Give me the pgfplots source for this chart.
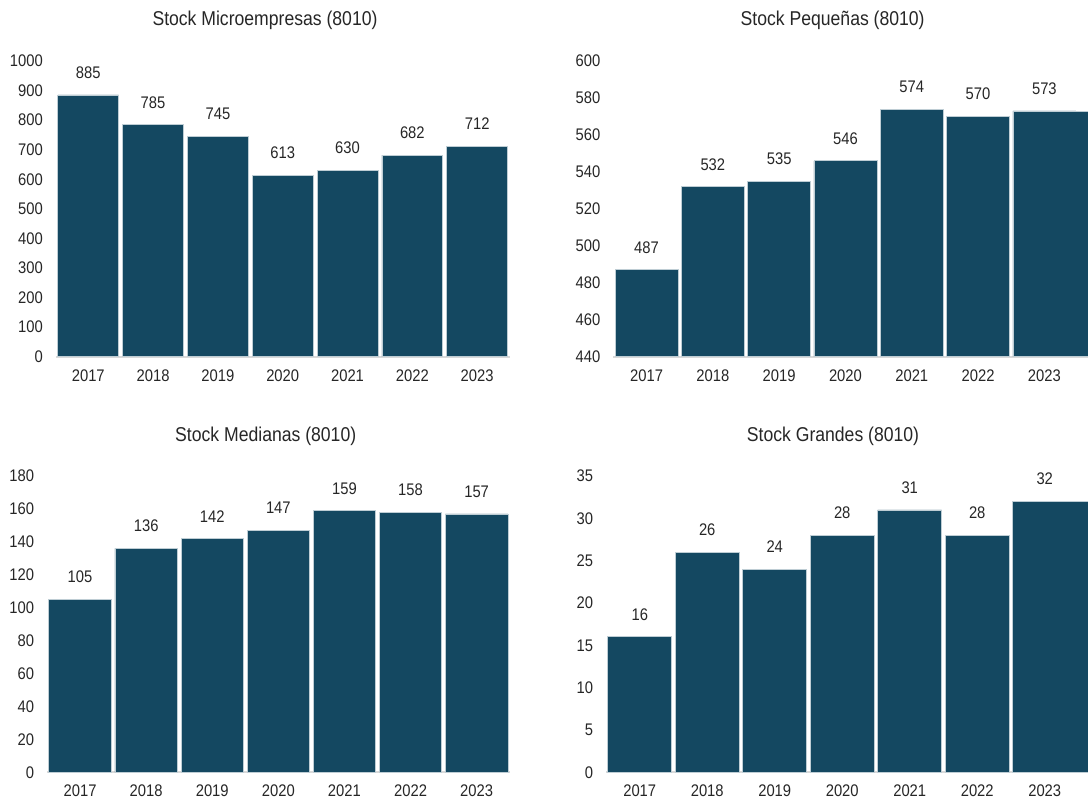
\documentclass[border=0pt]{standalone}
\usepackage{fontspec}
\setmainfont{Liberation Sans}[FakeStretch=0.88]
\usepackage{pgfplots}
\pgfplotsset{compat=1.18}

\definecolor{barcol}{RGB}{20,72,97}
\definecolor{edgecol}{RGB}{190,205,212}
\definecolor{basecol}{RGB}{217,217,217}
\definecolor{txtcol}{RGB}{38,38,38}

\pgfplotsset{
  stockpanel/.style={
    scale only axis,
    ybar, bar shift=0pt,
    xmin=-0.5,
    xtick={0,...,6},
    xticklabels={2017,2018,2019,2020,2021,2022,2023},
    axis x line*=bottom, axis y line*=left,
    x axis line style={-, draw=basecol, line width=0.9pt},
    y axis line style={draw=none},
    major tick length=0pt,
    tick style={draw=none},
    ticklabel style={font=\fontsize{8.4}{10}\selectfont, text=txtcol},
    yticklabel style={inner sep=0pt, xshift=-6.3pt},
    xticklabel style={inner sep=0pt, yshift=-6.2pt},
    /pgf/number format/assume math mode=true,
    /pgf/number format/1000 sep={},
    every node near coord/.append style={font=\fontsize{8.4}{10}\selectfont,
      text=txtcol, inner sep=0pt, yshift=8pt},
    title style={font=\fontsize{10}{12}\selectfont, anchor=base,
      inner sep=0pt, text=txtcol},
  },
  barstyle/.style={fill=barcol, draw=edgecol, line width=0.35pt},
}

\begin{document}
\begin{tikzpicture}
\useasboundingbox (0,0) rectangle (544pt,400.5pt);

% Microempresas
\begin{axis}[stockpanel, at={(27.93pt,222.15pt)}, anchor=south west,
  width=226.85pt, height=147.85pt, bar width=0.94,
  xmax=6.5, ymin=0, ymax=1000, ytick={0,100,...,1000},
  title={Stock Microempresas (8010)},
  title style={at={(axis description cs:0.461,1.081)}}]
  \addplot[barstyle, nodes near coords] coordinates {
    (0,885) (1,785) (2,745) (3,613) (4,630) (5,682) (6,712)};
\end{axis}

% Pequenas
\begin{axis}[stockpanel, at={(306.7pt,222.15pt)}, anchor=south west,
  width=237.3pt, height=147.85pt, bar width=0.95,
  xmax=6.658, ymin=440, ymax=600, ytick={440,460,...,600},
  title={Stock Pequeñas (8010)},
  title style={at={(axis description cs:0.462,1.081)}}]
  \addplot[barstyle, nodes near coords] coordinates {
    (0,487) (1,532) (2,535) (3,546) (4,574) (5,570) (6,573)};
  \addplot[barstyle, bar width=1.133, bar shift=0.0915] coordinates {(6,573)};
\end{axis}

% Medianas
\begin{axis}[stockpanel, at={(23.5pt,14.35pt)}, anchor=south west,
  width=231.35pt, height=148.15pt, bar width=0.945,
  xmax=6.5, ymin=0, ymax=180, ytick={0,20,...,180},
  title={Stock Medianas (8010)},
  title style={at={(axis description cs:0.4727,1.0775)}}]
  \addplot[barstyle, nodes near coords] coordinates {
    (0,105) (1,136) (2,142) (3,147) (4,159) (5,158) (6,157)};
\end{axis}

% Grandes
\begin{axis}[stockpanel, at={(303pt,14.35pt)}, anchor=south west,
  width=241pt, height=148.15pt, bar width=0.948,
  xmax=6.641, ymin=0, ymax=35, ytick={0,5,...,35},
  title={Stock Grandes (8010)},
  title style={at={(axis description cs:0.471,1.0775)}}]
  \addplot[barstyle, nodes near coords] coordinates {
    (0,16) (1,26) (2,24) (3,28) (4,31) (5,28) (6,32)};
  \addplot[barstyle, bar width=1.115, bar shift=0.0835] coordinates {(6,32)};
\end{axis}
\end{tikzpicture}
\end{document}
